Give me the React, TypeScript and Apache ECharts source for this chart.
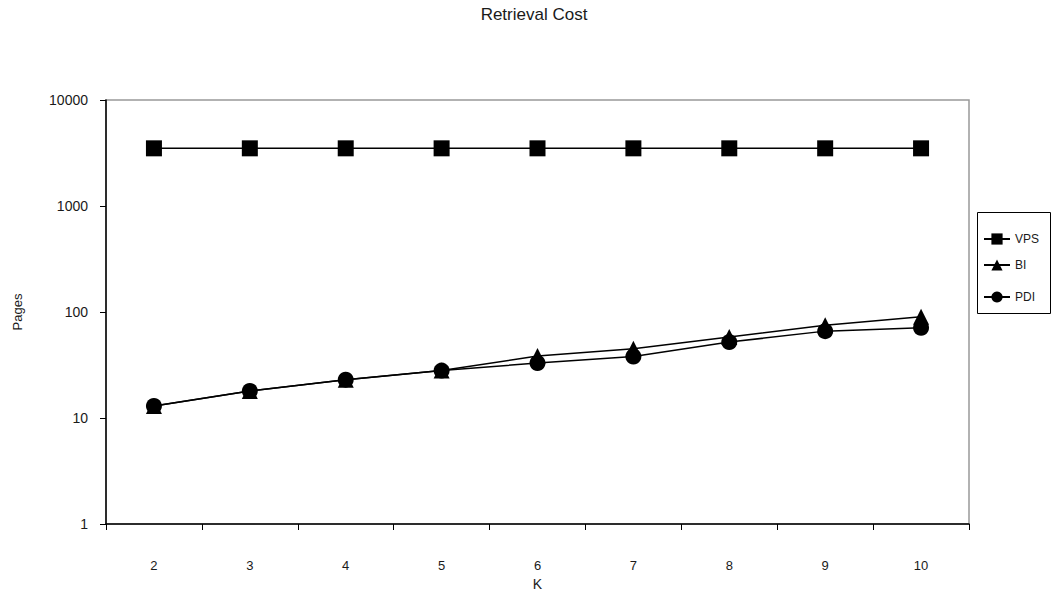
import React, { useEffect, useRef } from "react";
import * as echarts from "echarts";

// Category axis: number of nearest neighbours K
const kValues = ["2", "3", "4", "5", "6", "7", "8", "9", "10"];

// Pages read per query
const vpsPages = [3500, 3500, 3500, 3500, 3500, 3500, 3500, 3500, 3500];
const biPages = [13, 18, 23, 28, 38.5, 45, 58, 75, 90];
const pdiPages = [13, 18, 23, 28, 33, 38, 52, 66, 71];

const seriesNames = ["VPS", "BI", "PDI"];
const seriesSymbols = ["rect", "triangle", "circle"];

const FONT = "'Liberation Sans', Arial, Helvetica, sans-serif";
const TEXT = "#1a1a1a";

export default function App() {
  const ref = useRef<HTMLDivElement>(null);

  useEffect(() => {
    if (!ref.current) return;
    const chart = echarts.init(ref.current, undefined, { renderer: "svg" });

    const dataSets = [vpsPages, biPages, pdiPages];
    const legendCenters = [240, 266, 298];

    const legends = seriesNames.map((name, i) => ({
      show: true,
      data: [name],
      left: 983,
      top: legendCenters[i] - 7,
      padding: 0,
      itemWidth: 26,
      itemHeight: 14,
      itemGap: 4,
      textStyle: { fontFamily: FONT, fontSize: 12, color: TEXT },
      selectedMode: false,
    }));

    chart.setOption({
      animation: false,
      backgroundColor: "#ffffff",
      textStyle: { fontFamily: FONT },
      title: {
        text: "Retrieval Cost",
        left: 529,
        textAlign: "center",
        top: 1,
        textStyle: { fontFamily: FONT, fontSize: 17, fontWeight: "normal", color: TEXT },
      },
      legend: legends,
      grid: {
        left: 106,
        right: 89,
        top: 100,
        bottom: 68,
        outerBoundsMode: "none",
        containLabel: false,
        show: true,
        borderColor: "#999",
        borderWidth: 1.5,
        backgroundColor: "transparent",
      },
      xAxis: {
        type: "category",
        data: kValues,
        boundaryGap: true,
        name: "K",
        nameLocation: "middle",
        nameGap: 53,
        nameTextStyle: { fontFamily: FONT, fontSize: 14, color: TEXT },
        axisLine: { lineStyle: { color: "#000", width: 1.5 } },
        axisTick: { show: true, alignWithLabel: false, interval: 0, length: 6, lineStyle: { color: "#000" } },
        axisLabel: { interval: 0, margin: 35, fontFamily: FONT, fontSize: 13, color: TEXT },
        splitLine: { show: false },
      },
      yAxis: {
        type: "log",
        logBase: 10,
        min: 1,
        max: 10000,
        name: "Pages",
        nameLocation: "middle",
        nameRotate: 90,
        nameGap: 82,
        nameTextStyle: { fontFamily: FONT, fontSize: 13, color: TEXT },
        axisLine: { show: true, lineStyle: { color: "#000", width: 1.5 } },
        axisTick: { show: true, length: 6, lineStyle: { color: "#000" } },
        axisLabel: {
          margin: 18,
          fontFamily: FONT,
          fontSize: 14,
          color: TEXT,
          formatter: (v: number) => String(Math.round(v)),
        },
        splitLine: { show: false },
        minorTick: { show: false },
      },
      graphic: [
        {
          type: "rect",
          shape: { x: 977.5, y: 212.5, width: 73, height: 101 },
          style: { fill: "none", stroke: "#000", lineWidth: 1 },
          silent: true,
        },
      ],
      series: seriesNames.map((name, i) => ({
        name,
        type: "line",
        data: dataSets[i],
        symbol: seriesSymbols[i],
        symbolSize: 16,
        itemStyle: { color: "#000" },
        lineStyle: { color: "#000", width: 1.5 },
        emphasis: { disabled: true },
        z: 2 + i,
      })),
    });

    return () => chart.dispose();
  }, []);

  return (
    <div
      ref={ref}
      style={{ position: "fixed", left: 0, top: 0, width: 1058, height: 592 }}
    />
  );
}
